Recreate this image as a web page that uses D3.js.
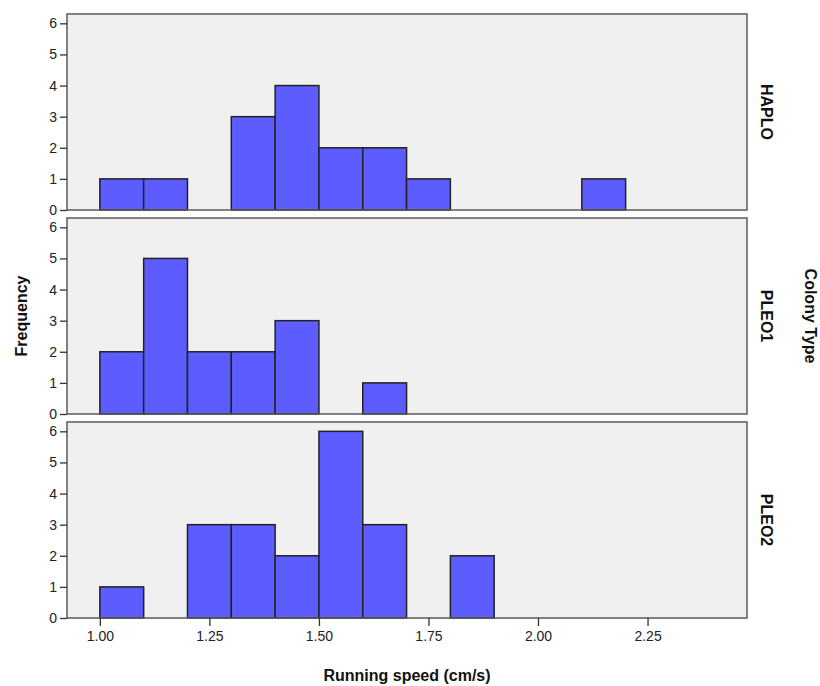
<!DOCTYPE html>
<html>
<head>
<meta charset="utf-8">
<script src="https://cdn.jsdelivr.net/npm/d3@7"></script>
<style>
  body { margin: 0; background: #fff; }
  svg text { font-family: "Liberation Sans", Arial, sans-serif; }
</style>
</head>
<body>
<svg id="chart" width="820" height="686"></svg>
<script>
// bin starts (width 0.1) and counts per colony type
const binStarts = [1.0, 1.1, 1.2, 1.3, 1.4, 1.5, 1.6, 1.7, 1.8, 1.9, 2.0, 2.1]
const haplo = [1, 1, 0, 3, 4, 2, 2, 1, 0, 0, 0, 1]
const pleo1 = [2, 5, 2, 2, 3, 0, 1, 0, 0, 0, 0, 0]
const pleo2 = [1, 0, 3, 3, 2, 6, 3, 0, 2, 0, 0, 0]
const panelNames = ['HAPLO', 'PLEO1', 'PLEO2']
const xTicks = [1.0, 1.25, 1.5, 1.75, 2.0, 2.25]
const yTicks = [0, 1, 2, 3, 4, 5, 6]
const binWidth = 0.1

const svg = d3.select('#chart')
const left = 67, right = 747
const panels = [
  { name: panelNames[0], values: haplo, top: 14, bottom: 210 },
  { name: panelNames[1], values: pleo1, top: 218, bottom: 414 },
  { name: panelNames[2], values: pleo2, top: 422, bottom: 618 },
]

const x = d3.scaleLinear().domain([0.925, 2.477]).range([left, right])

panels.forEach((p, i) => {
  const y = d3.scaleLinear().domain([0, 6.3]).range([p.bottom, p.top])
  const g = svg.append('g')

  g.append('rect')
    .attr('x', left).attr('y', p.top)
    .attr('width', right - left).attr('height', p.bottom - p.top)
    .attr('fill', '#f0f0f0')

  const bins = binStarts.map((s, j) => ({ start: s, count: p.values[j] })).filter((d) => d.count > 0)
  g.selectAll('rect.bar')
    .data(bins)
    .enter()
    .append('rect')
    .attr('class', 'bar')
    .attr('x', (d) => x(d.start))
    .attr('y', (d) => y(d.count))
    .attr('width', (d) => x(d.start + binWidth) - x(d.start))
    .attr('height', (d) => y(0) - y(d.count))
    .attr('fill', '#5c5cff')
    .attr('stroke', '#222')
    .attr('stroke-width', 1.5)

  g.append('rect')
    .attr('x', left).attr('y', p.top)
    .attr('width', right - left).attr('height', p.bottom - p.top)
    .attr('fill', 'none')
    .attr('stroke', '#5a5a5a')
    .attr('stroke-width', 1.5)

  const yAxis = g.append('g')
    .attr('transform', `translate(${left},0)`)
    .call(d3.axisLeft(y).tickValues(yTicks).tickFormat(d3.format('d')).tickSize(7).tickPadding(3))
  yAxis.attr('font-size', null).attr('font-family', null)
  yAxis.select('.domain').remove()
  yAxis.selectAll('line').attr('stroke', '#333').attr('stroke-width', 1.3)
  yAxis.selectAll('text').style('font-size', '14px').style('fill', '#222')

  g.append('text')
    .attr('transform', `translate(${761},${(p.top + p.bottom) / 2}) rotate(90)`)
    .attr('text-anchor', 'middle')
    .style('font-size', '16px')
    .attr('font-weight', 'bold')
    .attr('fill', '#111')
    .text(p.name)

  if (i === panels.length - 1) {
    const xAxis = g.append('g')
      .attr('transform', `translate(0,${p.bottom})`)
      .call(d3.axisBottom(x).tickValues(xTicks).tickFormat(d3.format('.2f')).tickSize(8).tickPadding(5))
    xAxis.attr('font-size', null).attr('font-family', null)
    xAxis.select('.domain').remove()
    xAxis.selectAll('line').attr('stroke', '#333').attr('stroke-width', 1.3)
    xAxis.selectAll('text').style('font-size', '14px').style('fill', '#222')
  }
})

svg.append('text')
  .attr('x', (left + right) / 2)
  .attr('y', 681)
  .attr('text-anchor', 'middle')
  .style('font-size', '16px')
  .attr('font-weight', 'bold')
  .attr('fill', '#111')
  .text('Running speed (cm/s)')

svg.append('text')
  .attr('transform', `translate(27,${(14 + 618) / 2}) rotate(-90)`)
  .attr('text-anchor', 'middle')
  .style('font-size', '16px')
  .attr('font-weight', 'bold')
  .attr('fill', '#111')
  .text('Frequency')

svg.append('text')
  .attr('transform', `translate(805,${(14 + 618) / 2}) rotate(90)`)
  .attr('text-anchor', 'middle')
  .style('font-size', '16px')
  .attr('font-weight', 'bold')
  .attr('fill', '#111')
  .text('Colony Type')
</script>
</body>
</html>
